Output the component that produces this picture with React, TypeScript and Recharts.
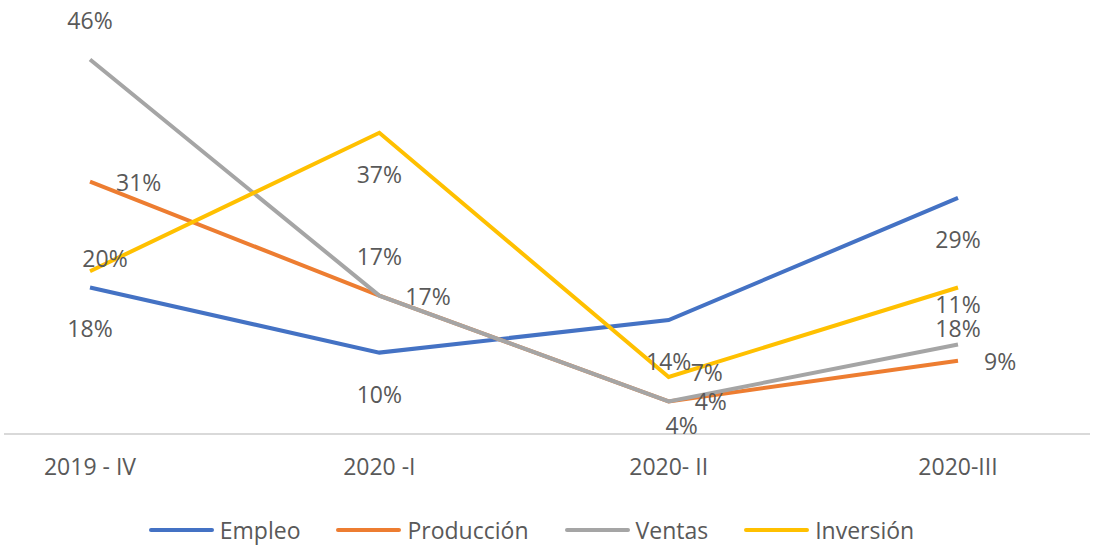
import { LineChart, Line, XAxis, YAxis, Legend, LabelList } from 'recharts';

const periods = ['2019 - IV', '2020 -I', '2020- II', '2020-III'];
const empleo = [18, 10, 14, 29];
const produccion = [31, 17, 4, 9];
const ventas = [46, 17, 4, 11];
const inversion = [20, 37, 7, 18];

const chartData = periods.map((p, i) => ({
  period: p,
  empleo: empleo[i],
  produccion: produccion[i],
  ventas: ventas[i],
  inversion: inversion[i],
}));

const series = [
  { key: 'empleo', name: 'Empleo', color: '#4472C4', place: ['bottom', 'bottom', 'bottom', 'bottom'] },
  { key: 'produccion', name: 'Producción', color: '#ED7D31', place: ['right', 'right', 'bottomright', 'right'] },
  { key: 'ventas', name: 'Ventas', color: '#A5A5A5', place: ['top', 'top', 'right', 'top'] },
  { key: 'inversion', name: 'Inversión', color: '#FFC000', place: ['topright', 'bottom', 'rightup', 'bottom'] },
];

const FONT = '"Open Sans", Calibri, sans-serif';
const TEXT = '#595959';

// label placement around the point, mimicking the Excel layout
const makeLabel = (place: string[]) => (props: any) => {
  const { x, y, value, index } = props;
  const p = place[index];
  let tx = x;
  let ty = y;
  let anchor: 'start' | 'middle' = 'middle';
  if (p === 'top') ty = y - 40;
  else if (p === 'bottom') ty = y + 41;
  else if (p === 'right') { tx = x + 26; anchor = 'start'; }
  else if (p === 'rightup') { tx = x + 22; ty = y - 5; anchor = 'start'; }
  else if (p === 'topright') { tx = x + 15; ty = y - 13; }
  else if (p === 'bottomright') { tx = x + 13; ty = y + 24; }
  return (
    <text x={tx} y={ty} textAnchor={anchor} dominantBaseline="central"
      fontSize={23} fill={TEXT} fontFamily={FONT}>
      {value}%
    </text>
  );
};

const renderLegend = () => (
  <div style={{ display: 'flex', justifyContent: 'center', paddingRight: 30, fontFamily: FONT, fontSize: 23, color: TEXT }}>
    {series.map((s, i) => (
      <div key={s.key} style={{ display: 'flex', alignItems: 'center', marginLeft: i === 0 ? 0 : 36 }}>
        <div style={{ width: 65, height: 4, background: s.color, borderRadius: 2, marginRight: 6 }} />
        <span>{s.name}</span>
      </div>
    ))}
  </div>
);

export default function App() {
  return (
    <div style={{ position: 'absolute', left: 0, top: 0, background: '#fff' }}>
      <LineChart width={1093} height={546} data={chartData}
        margin={{ top: 27, right: 3, left: 4, bottom: 0 }}>
        <XAxis
          dataKey="period"
          stroke="#D9D9D9"
          strokeWidth={2}
          tickLine={false}
          tickMargin={19}
          height={76}
          padding={{ left: 86, right: 132 }}
          tick={{ fontSize: 23, fill: TEXT, fontFamily: FONT }}
        />
        <YAxis hide domain={[0, 50]} />
        <Legend content={renderLegend} verticalAlign="bottom"
          wrapperStyle={{ top: 514, left: 0, width: 1093, height: 36 }} />
        {series.map((s) => (
          <Line
            key={s.key}
            type="linear"
            dataKey={s.key}
            name={s.name}
            stroke={s.color}
            strokeWidth={4}
            dot={false}
            activeDot={false}
            isAnimationActive={false}
          >
            <LabelList dataKey={s.key} content={makeLabel(s.place)} />
          </Line>
        ))}
      </LineChart>
    </div>
  );
}
